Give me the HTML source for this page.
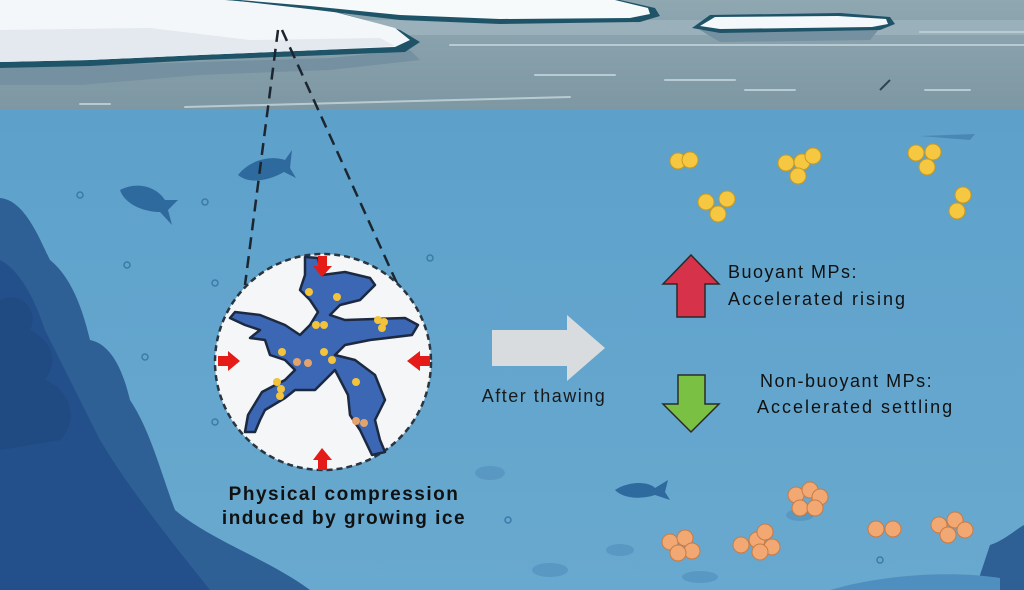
<!DOCTYPE html>
<html><head><meta charset="utf-8"><style>
html,body{margin:0;padding:0;width:1024px;height:590px;overflow:hidden;background:#5fa3cb}
svg{display:block}
text{font-family:"Liberation Sans",sans-serif}
</style></head><body>
<svg width="1024" height="590" viewBox="0 0 1024 590" xmlns="http://www.w3.org/2000/svg">
<defs>
<linearGradient id="sky" x1="0" y1="0" x2="0" y2="1"><stop offset="0" stop-color="#8fa7b1"/><stop offset="1" stop-color="#7d97a3"/></linearGradient>
<linearGradient id="sea" x1="0" y1="0" x2="0" y2="1"><stop offset="0" stop-color="#5a9fca"/><stop offset="1" stop-color="#69a9cf"/></linearGradient>
</defs>
<rect width="1024" height="590" fill="url(#sea)"/>
<rect width="1024" height="110" fill="url(#sky)"/>
<rect y="20" width="1024" height="15" fill="#9ab0ba"/>
<path d="M0,68 L200,62 L330,58 L410,50 L420,60 L330,70 L200,75 L80,85 L0,85 Z" fill="#7590a0"/>
<path d="M700,30 L880,28 L870,40 L720,42 Z" fill="#7590a0"/>
<g stroke="#b9cbd2" stroke-width="2" stroke-linecap="round">
<line x1="450" y1="45" x2="1024" y2="45"/><line x1="535" y1="75" x2="615" y2="75"/><line x1="665" y1="80" x2="735" y2="80"/>
<line x1="185" y1="107" x2="570" y2="97"/><line x1="80" y1="104" x2="110" y2="104"/><line x1="745" y1="90" x2="795" y2="90"/><line x1="925" y1="90" x2="970" y2="90"/><line x1="920" y1="32" x2="1024" y2="32"/>
</g>
<line x1="880" y1="90" x2="890" y2="80" stroke="#2b4653" stroke-width="2"/>
<path d="M0,0 L230,0 L330,10 L400,30 L420,42 L405,52 L330,55 L200,60 L90,66 L0,68 Z" fill="#1f5468"/>
<path d="M0,0 L225,0 L320,8 L395,28 L410,40 L395,47 L320,50 L200,55 L90,60 L0,62 Z" fill="#f4f7f9"/>
<path d="M0,30 L150,28 L250,40 L380,38 L395,46 L320,50 L200,55 L90,60 L0,62 Z" fill="#e3e9ee"/>
<path d="M230,0 L620,0 L655,8 L660,16 L640,22 L500,24 L400,20 L300,8 Z" fill="#1f5468"/>
<path d="M240,0 L615,0 L648,8 L650,14 L630,18 L500,19 L400,15 L310,6 Z" fill="#f7fafb"/>
<path d="M692,28 L710,15 L840,13 L890,17 L895,24 L880,30 L720,33 Z" fill="#1f5468"/>
<path d="M700,26 L715,17 L838,16 L886,19 L888,24 L872,27 L720,29 Z" fill="#f5f8fa"/>
<!-- rocks -->
<path d="M0,198 C25,200 40,240 50,260 C75,280 85,320 90,340 C115,345 125,380 130,400 C150,430 160,470 175,510 C210,540 270,560 310,590 L0,590 Z" fill="#2e5f95"/>
<path d="M0,260 C20,270 35,300 45,330 C60,360 80,400 100,440 C130,490 170,540 210,590 L0,590 Z" fill="#23508a"/>
<path d="M0,300 C20,290 40,310 30,330 C50,340 60,360 45,380 C70,390 80,420 60,440 L0,450 Z" fill="#1f4a82"/>
<path d="M990,545 C1005,540 1015,530 1024,525 L1024,590 L975,590 Z" fill="#2e5f95"/>
<path d="M830,590 C880,575 950,570 1000,578 L1000,590 Z" fill="#4f8fbf"/>
<g fill="#2f6a9f">
<path d="M238,175 C250,160 270,155 285,160 L292,150 L290,168 L296,178 L284,172 C270,180 250,185 238,175 Z"/>
<path d="M120,190 C135,182 155,185 165,200 L178,200 L168,210 L172,225 L160,212 C145,212 125,205 120,190 Z"/>
<path d="M615,490 C630,480 650,482 655,488 L668,480 L665,492 L670,500 L655,495 C640,500 622,498 615,490 Z"/>
<ellipse cx="490" cy="473" rx="15" ry="7" fill="#5898c2"/><ellipse cx="550" cy="570" rx="18" ry="7" fill="#5898c2"/><ellipse cx="620" cy="550" rx="14" ry="6" fill="#5898c2"/><ellipse cx="700" cy="577" rx="18" ry="6" fill="#5898c2"/><ellipse cx="800" cy="515" rx="14" ry="6" fill="#5898c2"/>
<path d="M920,136 L975,134 L970,140 Z" fill="#4a87b5"/>
</g>
<g fill="none" stroke="#3d7aa8" stroke-width="1.5">
<circle cx="80" cy="195" r="3"/><circle cx="205" cy="202" r="3"/><circle cx="127" cy="265" r="3"/><circle cx="215" cy="283" r="3"/><circle cx="145" cy="357" r="3"/><circle cx="215" cy="422" r="3"/><circle cx="508" cy="520" r="3"/><circle cx="880" cy="560" r="3"/><circle cx="430" cy="258" r="3"/>
</g>
<g stroke="#1c2630" stroke-width="2.5" stroke-dasharray="12,7" fill="none">
<line x1="278" y1="30" x2="245" y2="285"/><line x1="282" y1="30" x2="400" y2="290"/>
</g>
<circle cx="323" cy="362" r="108" fill="#f4f6f8" stroke="#2a3540" stroke-width="2.5" stroke-dasharray="6,4"/>
<path d="M305,257 L318,258 L322,275 L345,272 L370,278 L375,285 L360,300 L340,305 L330,315 L345,320 L405,318 L418,325 L412,335 L370,340 L345,345 L335,355 L355,360 L375,375 L385,400 L375,420 L380,440 L385,452 L372,455 L360,430 L350,415 L348,395 L335,370 L325,380 L315,390 L295,390 L285,398 L265,410 L260,420 L255,432 L245,432 L248,415 L262,392 L285,380 L295,370 L285,360 L270,355 L265,340 L250,338 L260,330 L245,325 L230,318 L235,312 L260,315 L285,325 L300,335 L310,325 L318,312 L310,300 L300,290 L305,275 Z" fill="#3b67b4" stroke="#1c2940" stroke-width="2.5" stroke-linejoin="round"/>
<g fill="#f2c33b">
<circle cx="309" cy="292" r="4"/><circle cx="337" cy="297" r="4"/><circle cx="316" cy="325" r="4"/><circle cx="324" cy="325" r="4"/><circle cx="378" cy="320" r="4"/><circle cx="384" cy="322" r="4"/><circle cx="382" cy="328" r="4"/><circle cx="282" cy="352" r="4"/><circle cx="324" cy="352" r="4"/><circle cx="332" cy="360" r="4"/><circle cx="356" cy="382" r="4"/><circle cx="277" cy="382" r="4"/><circle cx="281" cy="389" r="4"/><circle cx="280" cy="396" r="4"/>
</g>
<g fill="#e3a36a"><circle cx="297" cy="362" r="4"/><circle cx="308" cy="363" r="4"/><circle cx="356" cy="421" r="4"/><circle cx="364" cy="423" r="4"/></g>
<g fill="#e41b17">
<path d="M318,256 L327,256 L327,266 L332,266 L322,277 L313,266 L318,266 Z"/>
<path d="M318,470 L327,470 L327,460 L332,460 L322,448 L313,460 L318,460 Z"/>
<path d="M218,356 L228,356 L228,351 L240,361 L228,371 L228,366 L218,366 Z"/>
<path d="M430,356 L420,356 L420,351 L407,361 L420,371 L420,366 L430,366 Z"/>
</g>
<text x="344" y="500" font-size="19" font-weight="bold" letter-spacing="1.5" fill="#111" text-anchor="middle">Physical compression</text>
<text x="344" y="524" font-size="19" font-weight="bold" letter-spacing="1.5" fill="#111" text-anchor="middle">induced by growing ice</text>
<path d="M492,330 L567,330 L567,315 L605,348 L567,381 L567,366 L492,366 Z" fill="#d9dcde"/>
<text x="544" y="402" font-size="18" letter-spacing="1.5" fill="#1a1a1a" text-anchor="middle">After thawing</text>
<path d="M691,255 L719,284 L705,284 L705,317 L677,317 L677,284 L663,284 Z" fill="#d6334a" stroke="#2a2a2a" stroke-width="1.5"/>
<path d="M678,375 L705,375 L705,404 L719,404 L691,432 L663,404 L678,404 Z" fill="#7ac043" stroke="#2a2a2a" stroke-width="1.5"/>
<text x="728" y="278" font-size="18" letter-spacing="1.5" fill="#111">Buoyant MPs:</text>
<text x="728" y="305" font-size="18" letter-spacing="2" fill="#111">Accelerated rising</text>
<text x="760" y="387" font-size="18" letter-spacing="1.5" fill="#111">Non-buoyant MPs:</text>
<text x="757" y="413" font-size="18" letter-spacing="2" fill="#111">Accelerated settling</text>
<g fill="#f6c842" stroke="#c99a20" stroke-width="1">
<circle cx="678" cy="161" r="8"/><circle cx="690" cy="160" r="8"/>
<circle cx="786" cy="163" r="8"/><circle cx="802" cy="162" r="8"/><circle cx="813" cy="156" r="8"/><circle cx="798" cy="176" r="8"/>
<circle cx="916" cy="153" r="8"/><circle cx="933" cy="152" r="8"/><circle cx="927" cy="167" r="8"/>
<circle cx="706" cy="202" r="8"/><circle cx="727" cy="199" r="8"/><circle cx="718" cy="214" r="8"/>
<circle cx="963" cy="195" r="8"/><circle cx="957" cy="211" r="8"/>
</g>
<g fill="#f2a873" stroke="#c87b45" stroke-width="1">
<circle cx="796" cy="495" r="8"/><circle cx="810" cy="490" r="8"/><circle cx="820" cy="497" r="8"/><circle cx="800" cy="508" r="8"/><circle cx="815" cy="508" r="8"/>
<circle cx="670" cy="542" r="8"/><circle cx="685" cy="538" r="8"/><circle cx="692" cy="551" r="8"/><circle cx="678" cy="553" r="8"/>
<circle cx="741" cy="545" r="8"/><circle cx="757" cy="540" r="8"/><circle cx="765" cy="532" r="8"/><circle cx="772" cy="547" r="8"/><circle cx="760" cy="552" r="8"/>
<circle cx="876" cy="529" r="8"/><circle cx="893" cy="529" r="8"/>
<circle cx="939" cy="525" r="8"/><circle cx="955" cy="520" r="8"/><circle cx="965" cy="530" r="8"/><circle cx="948" cy="535" r="8"/>
</g>
</svg>
</body></html>
